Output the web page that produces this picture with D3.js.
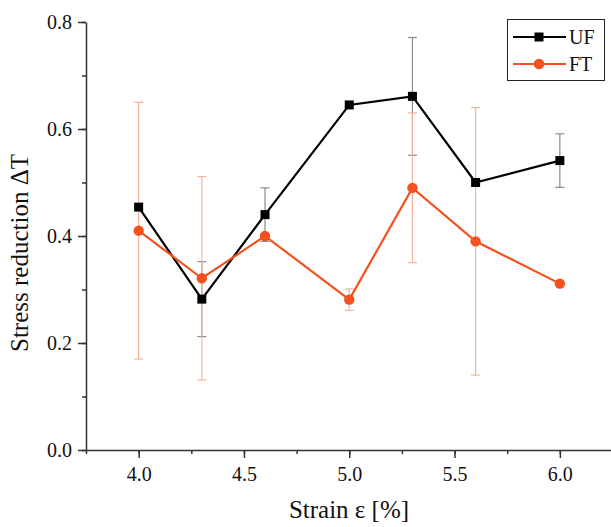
<!DOCTYPE html>
<html>
<head>
<meta charset="utf-8">
<script src="https://cdn.jsdelivr.net/npm/d3@7"></script>
<style>
    body { margin: 0; background: #fff; }
    svg text { font-family: "Liberation Serif", "Tinos", "Times New Roman", "DejaVu Serif", serif; fill: #111; }
</style>
</head>
<body>
<div id="chart"></div>
<script>
// strain values (x) and both series
let strain = [4.0, 4.3, 4.6, 5.0, 5.3, 5.6, 6.0];
let ufValues = [0.454, 0.282, 0.44, 0.645, 0.661, 0.50, 0.541];
let ufErrors = [0, 0.07, 0.05, 0, 0.11, 0, 0.05];
let ftValues = [0.41, 0.321, 0.40, 0.281, 0.49, 0.39, 0.311];
let ftErrors = [0.24, 0.19, 0, 0.02, 0.14, 0.25, 0];

let xTicks = [4.0, 4.5, 5.0, 5.5, 6.0];
let yTicks = [0.0, 0.2, 0.4, 0.6, 0.8];

let seriesNames = ["UF", "FT"];

let serif = "'Liberation Serif', 'Tinos', 'Times New Roman', 'DejaVu Serif', serif";

let w = 611;
let h = 527;

let svg = d3.select("#chart")
    .append("svg")
    .attr("width", w)
    .attr("height", h);

let xScale = d3.scaleLinear()
    .domain([3.75, 6.25])
    .range([86, 612.5]);

let yScale = d3.scaleLinear()
    .domain([0, 0.8])
    .range([450, 22]);

// minor ticks first, then the major axis on top
svg.append("g")
    .attr("transform", "translate(0,450)")
    .call(d3.axisBottom(xScale).tickValues(d3.range(3.75, 6.26, 0.25)).tickSize(4).tickFormat(""))
    .call(g => g.select(".domain").remove());

svg.append("g")
    .attr("transform", "translate(86,0)")
    .call(d3.axisLeft(yScale).tickValues(d3.range(0, 0.81, 0.1)).tickSize(4).tickFormat(""))
    .call(g => g.select(".domain").remove());

let xaxis = svg.append("g")
    .attr("transform", "translate(0,450)")
    .call(d3.axisBottom(xScale).tickValues(xTicks).tickSize(8).tickSizeOuter(0)
        .tickPadding(9).tickFormat(d3.format(".1f")));

let yaxis = svg.append("g")
    .attr("transform", "translate(86,0)")
    .call(d3.axisLeft(yScale).tickValues(yTicks).tickSize(8).tickSizeOuter(0)
        .tickPadding(6).tickFormat(d3.format(".1f")));

svg.selectAll("g").attr("font-family", null);
svg.selectAll(".tick line").attr("stroke", "#333").attr("stroke-width", 1.5);
svg.selectAll(".domain").attr("stroke", "#333").attr("stroke-width", 1.5);
svg.selectAll(".tick text")
    .style("font-family", serif)
    .style("font-size", "20px")
    .attr("fill", "#111");

svg.append("text")
    .attr("x", 349)
    .attr("y", 518)
    .attr("text-anchor", "middle")
    .style("font-family", serif)
    .style("font-size", "25px")
    .text("Strain ε [%]");

svg.append("text")
    .attr("transform", "translate(28,253) rotate(-90)")
    .attr("text-anchor", "middle")
    .style("font-family", serif)
    .style("font-size", "25px")
    .text("Stress reduction ΔT");

function makeData(vals, errs) {
    return strain.map((s, i) => ({x: s, y: vals[i], e: errs[i]}));
}

let uf = makeData(ufValues, ufErrors);
let ft = makeData(ftValues, ftErrors);

function drawErrors(data, color) {
    let g = svg.append("g")
        .attr("stroke", color)
        .attr("stroke-width", 1.2);
    let bars = data.filter(d => d.e > 0);
    g.selectAll(".v")
        .data(bars)
        .enter()
        .append("line")
        .attr("x1", d => xScale(d.x))
        .attr("x2", d => xScale(d.x))
        .attr("y1", d => yScale(d.y - d.e))
        .attr("y2", d => yScale(d.y + d.e));
    g.selectAll(".top")
        .data(bars)
        .enter()
        .append("line")
        .attr("x1", d => xScale(d.x) - 4.5)
        .attr("x2", d => xScale(d.x) + 4.5)
        .attr("y1", d => yScale(d.y + d.e))
        .attr("y2", d => yScale(d.y + d.e));
    g.selectAll(".bot")
        .data(bars)
        .enter()
        .append("line")
        .attr("x1", d => xScale(d.x) - 4.5)
        .attr("x2", d => xScale(d.x) + 4.5)
        .attr("y1", d => yScale(d.y - d.e))
        .attr("y2", d => yScale(d.y - d.e));
}

drawErrors(uf, "#8a8a8a");
drawErrors(ft, "#f7b29b");

let line = d3.line()
    .x(d => xScale(d.x))
    .y(d => yScale(d.y));

svg.append("path")
    .datum(uf)
    .attr("d", line)
    .attr("fill", "none")
    .attr("stroke", "#000")
    .attr("stroke-width", 2.2);

svg.selectAll(".sq")
    .data(uf)
    .enter()
    .append("rect")
    .attr("x", d => xScale(d.x) - 4.5)
    .attr("y", d => yScale(d.y) - 4.5)
    .attr("width", 9)
    .attr("height", 9)
    .attr("fill", "#000");

svg.append("path")
    .datum(ft)
    .attr("d", line)
    .attr("fill", "none")
    .attr("stroke", "#f4511e")
    .attr("stroke-width", 2.2);

svg.selectAll(".dot")
    .data(ft)
    .enter()
    .append("circle")
    .attr("cx", d => xScale(d.x))
    .attr("cy", d => yScale(d.y))
    .attr("r", 5.2)
    .attr("fill", "#f4511e");

// legend
let legend = svg.append("g");

legend.append("rect")
    .attr("x", 507.5)
    .attr("y", 19.5)
    .attr("width", 97)
    .attr("height", 61)
    .attr("fill", "#fff")
    .attr("stroke", "#222")
    .attr("stroke-width", 1);

let colors = ["#000", "#f4511e"];

let items = legend.selectAll(".item")
    .data(seriesNames)
    .enter()
    .append("g")
    .attr("transform", (d, i) => "translate(0," + (37 + i * 27) + ")");

items.append("line")
    .attr("x1", 513)
    .attr("x2", 566)
    .attr("stroke", (d, i) => colors[i])
    .attr("stroke-width", 2.2);

items.filter((d, i) => i == 0)
    .append("rect")
    .attr("x", 534.5)
    .attr("y", -4.5)
    .attr("width", 9)
    .attr("height", 9)
    .attr("fill", "#000");

items.filter((d, i) => i == 1)
    .append("circle")
    .attr("cx", 539)
    .attr("r", 5.2)
    .attr("fill", "#f4511e");

items.append("text")
    .attr("x", 569)
    .attr("y", 7)
    .style("font-family", serif)
    .style("font-size", "20px")
    .text(d => d);
</script>
</body>
</html>
